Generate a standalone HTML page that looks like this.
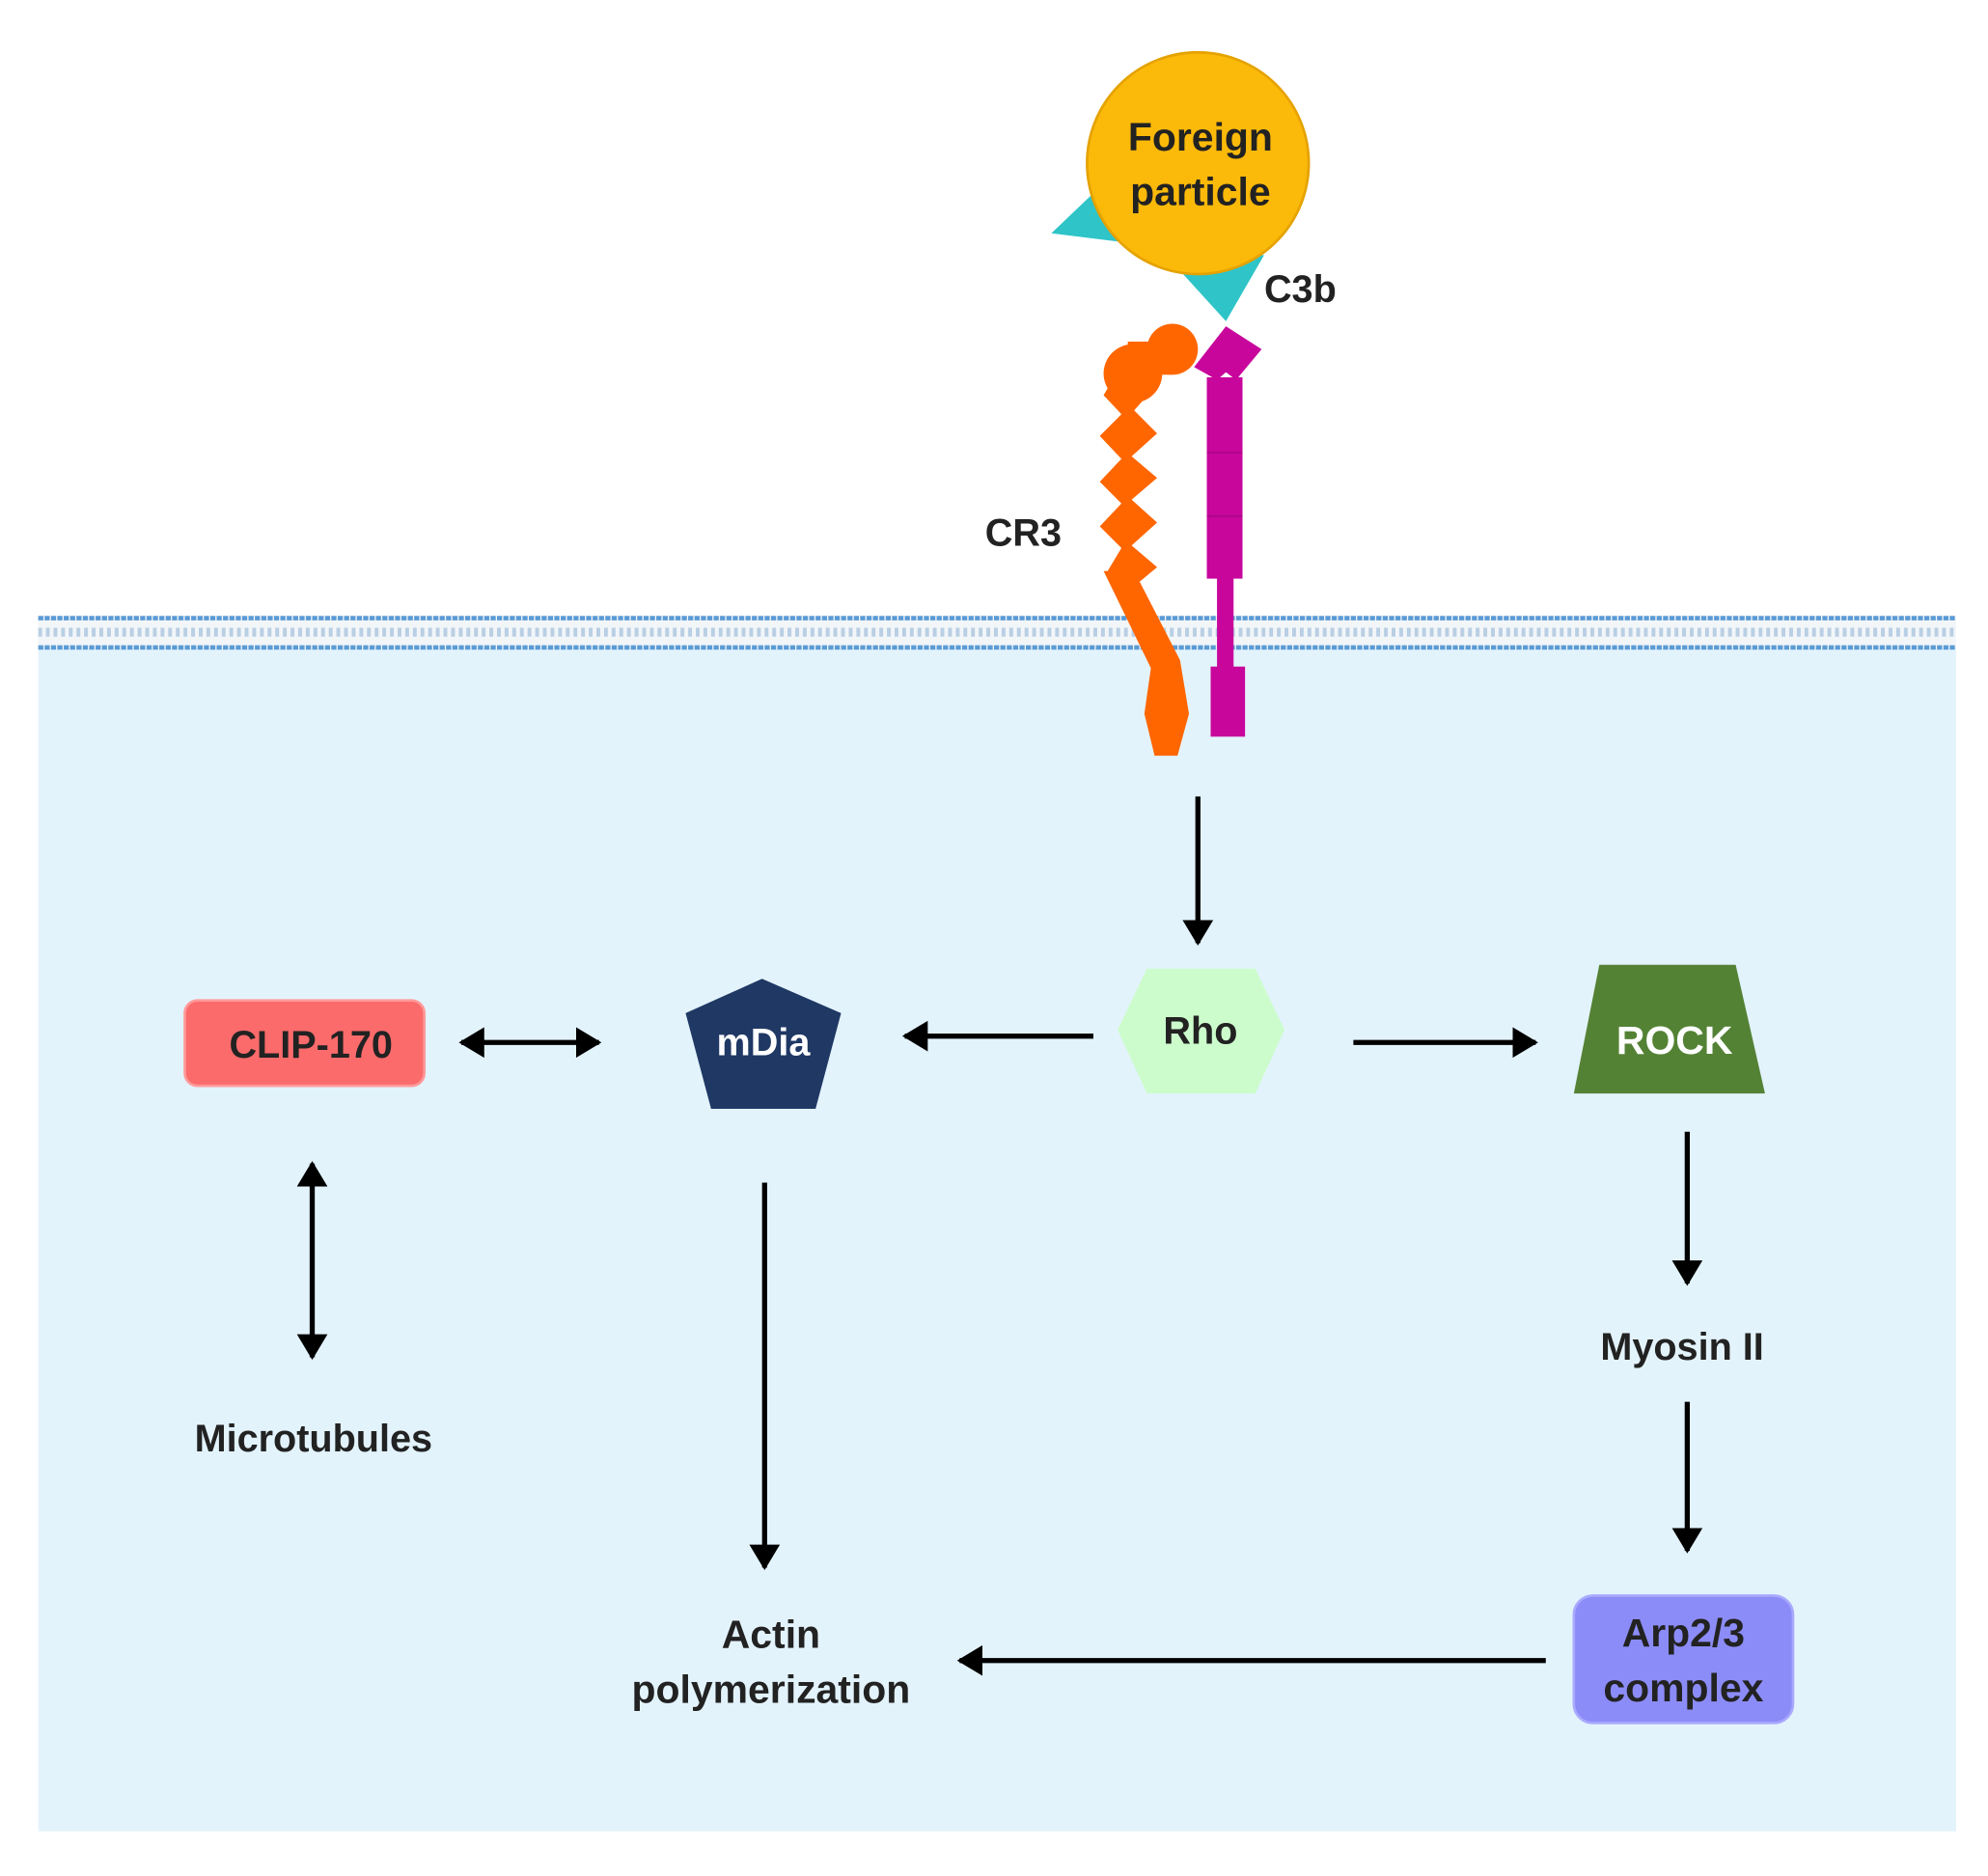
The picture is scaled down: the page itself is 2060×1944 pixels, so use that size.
<!DOCTYPE html>
<html><head><meta charset="utf-8"><style>
html,body{margin:0;padding:0;background:#fff;}
svg{display:block;}
text{font-family:"Liberation Sans",sans-serif;font-weight:bold;}
</style></head><body>
<svg width="2060" height="1944" viewBox="0 0 1560 1472" xmlns="http://www.w3.org/2000/svg">
<defs>
<marker id="ah" markerWidth="6" markerHeight="6" refX="4.5" refY="3" orient="auto-start-reverse" markerUnits="strokeWidth">
<path d="M0,0 L5,3 L0,6 Z" fill="#000"/>
</marker>
</defs>
<rect x="30" y="485" width="1505" height="952" fill="#e3f3fc"/>
<!-- membrane -->
<rect x="30" y="483" width="1505" height="26" fill="#f2f6f9"/>
<line x1="30" y1="485" x2="1535" y2="485" stroke="#5b9bd5" stroke-width="3.5" stroke-dasharray="4 1"/>
<line x1="30" y1="508" x2="1535" y2="508" stroke="#5b9bd5" stroke-width="3.5" stroke-dasharray="4 1"/>
<line x1="30" y1="496" x2="1535" y2="496" stroke="#b9cfe3" stroke-width="7" stroke-dasharray="3 3"/>
<!-- particle -->
<polygon points="825,183 870,140 898,192" fill="#2ec4c8"/>
<polygon points="922,208 992,200 962,252" fill="#2ec4c8"/>
<circle cx="940" cy="128" r="87" fill="#fbb909" stroke="#e5a200" stroke-width="2"/>
<text x="942" y="118" font-size="31" text-anchor="middle" fill="#222">Foreign</text>
<text x="942" y="161" font-size="31" text-anchor="middle" fill="#222">particle</text>
<text x="992" y="237" font-size="30" fill="#222">C3b</text>
<!-- magenta receptor -->
<polygon points="962,256 990,274 970,298 962,292 955,298 937,288" fill="#c8069c"/>
<rect x="947" y="296" width="28" height="158" fill="#c8069c"/>
<line x1="947" y1="355" x2="975" y2="355" stroke="#b0058a" stroke-width="1.5"/>
<line x1="947" y1="405" x2="975" y2="405" stroke="#b0058a" stroke-width="1.5"/>
<rect x="955" y="450" width="13" height="78" fill="#c8069c"/>
<rect x="950" y="523" width="27" height="55" fill="#c8069c"/>
<!-- orange receptor -->
<circle cx="920" cy="274" r="20" fill="#ff6600"/>
<circle cx="889" cy="293" r="23" fill="#ff6600"/>
<rect x="885" y="268" width="34" height="26" fill="#ff6600"/>
<polygon points="872,300 905,305 890,322 908,340 888,358 908,375 888,392 908,410 888,428 908,445 890,460 868,450 880,430 863,413 880,395 863,378 880,360 863,342 880,325 866,310" fill="#ff6600"/>
<polygon points="866,448 890,448 926,518 904,526" fill="#ff6600"/>
<polygon points="904,518 926,518 933,560 924,593 906,593 898,560" fill="#ff6600"/>
<text x="803" y="428" font-size="30" text-anchor="middle" fill="#222">CR3</text>
<!-- arrows -->
<g stroke="#000" stroke-width="4" fill="none">
<line x1="940" y1="625" x2="940" y2="740" marker-end="url(#ah)"/>
<line x1="858" y1="813" x2="710" y2="813" marker-end="url(#ah)"/>
<line x1="1062" y1="818" x2="1205" y2="818" marker-end="url(#ah)"/>
<line x1="362" y1="818" x2="470" y2="818" marker-start="url(#ah)" marker-end="url(#ah)"/>
<line x1="245" y1="913" x2="245" y2="1065" marker-start="url(#ah)" marker-end="url(#ah)"/>
<line x1="600" y1="928" x2="600" y2="1230" marker-end="url(#ah)"/>
<line x1="1324" y1="888" x2="1324" y2="1007" marker-end="url(#ah)"/>
<line x1="1324" y1="1100" x2="1324" y2="1217" marker-end="url(#ah)"/>
<line x1="1213" y1="1303" x2="753" y2="1303" marker-end="url(#ah)"/>
</g>
<!-- nodes -->
<polygon points="900,760 985,760 1008,808 985,858 900,858 877,808" fill="#ccfccc"/>
<text x="942" y="819" font-size="30" text-anchor="middle" fill="#222">Rho</text>
<polygon points="598,768 660,795 640,870 558,870 538,795" fill="#1f3864"/>
<text x="599" y="828" font-size="30" text-anchor="middle" fill="#fff">mDia</text>
<rect x="145" y="785" width="188" height="67" rx="10" fill="#fb6b6b" stroke="#ff9a9a" stroke-width="2"/>
<text x="244" y="830" font-size="30" text-anchor="middle" fill="#222">CLIP-170</text>
<polygon points="1255,757 1362,757 1385,858 1235,858" fill="#548235"/>
<text x="1314" y="827" font-size="31" text-anchor="middle" fill="#fff">ROCK</text>
<text x="246" y="1139" font-size="30" text-anchor="middle" fill="#222">Microtubules</text>
<text x="1320" y="1067" font-size="30" text-anchor="middle" fill="#222">Myosin II</text>
<text x="605" y="1293" font-size="31" text-anchor="middle" fill="#222">Actin</text>
<text x="605" y="1336" font-size="31" text-anchor="middle" fill="#222">polymerization</text>
<rect x="1235" y="1252" width="172" height="100" rx="15" fill="#8c8cf8" stroke="#a9a9ff" stroke-width="2"/>
<text x="1321" y="1292" font-size="31" text-anchor="middle" fill="#222">Arp2/3</text>
<text x="1321" y="1335" font-size="31" text-anchor="middle" fill="#222">complex</text>
</svg>
</body></html>
